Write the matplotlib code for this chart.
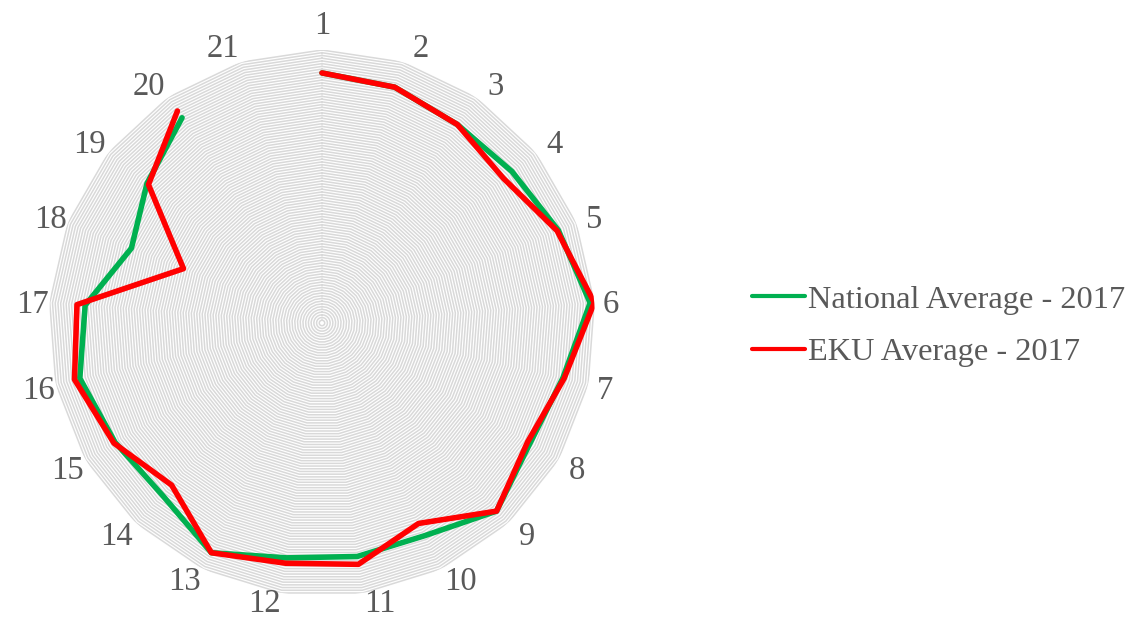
import numpy as np
import matplotlib
matplotlib.use("Agg")
import matplotlib.pyplot as plt

categories = [str(i) for i in range(1, 22)]
national = [91.6, 90.4, 88.0, 89.0, 93.0, 98.5, 90.5, 88.0, 94.0, 86.5, 86.5,
            87.0, 93.4, 86.0, 87.5, 91.0, 87.0, 75.0, 82.0, 91.0, np.nan]
eku = [91.6, 90.4, 88.0, 85.0, 92.5, 100.0, 91.0, 87.0, 94.0, 81.5, 89.4,
       89.0, 93.4, 81.0, 88.0, 93.0, 90.0, 54.5, 81.3, 94.0, np.nan]
series_names = ["National Average - 2017", "EKU Average - 2017"]
r_max = 100
grid_levels = np.arange(1, 101, 1)

W, H = 1137, 622
fig = plt.figure(figsize=(W / 100, H / 100), dpi=100)
cx, cy, R = 322, 323, 273
ax = fig.add_axes([(cx - R) / W, (H - cy - R) / H, 2 * R / W, 2 * R / H],
                  projection="polar")
ax.set_theta_offset(np.pi / 2)
ax.set_theta_direction(-1)
ax.set_ylim(0, r_max)
ax.grid(False)
ax.spines["polar"].set_visible(False)
ax.set_yticks([])
ax.set_xticks([])
ax.set_facecolor("none")

n = len(categories)
angles = np.arange(n) * 2 * np.pi / n
closed = np.append(angles, angles[0])
for lv in grid_levels:
    ax.plot(closed, np.full(closed.shape, lv), color="#d9d9d9", lw=1.1, zorder=1)

serif = ["Liberation Serif", "DejaVu Serif"]
label_r = r_max * 290 / 273
for a, lab in zip(angles, categories):
    rr = r_max * 300 / 273 if lab == "1" else label_r
    c = np.cos(a)
    dx_px = np.sign(np.round(np.sin(a), 6)) * 15 * c ** 2
    down_px = 3 - 10 * max(0.0, -c) ** 6
    ax.annotate(lab, xy=(a, rr), xytext=(dx_px * 0.72, -down_px * 0.72),
                textcoords="offset points", ha="center", va="center",
                fontsize=23.5, family=serif, color="#595959",
                annotation_clip=False)

l1, = ax.plot(angles, national, color="#00B050", lw=4, solid_capstyle="round",
              solid_joinstyle="round", zorder=3, label=series_names[0])
l2, = ax.plot(angles, eku, color="#FF0000", lw=4, solid_capstyle="round",
              solid_joinstyle="round", zorder=4, label=series_names[1])

leg = fig.legend(handles=[l1, l2], loc="center left",
                 bbox_to_anchor=(752 / W, 1 - 326 / H), frameon=False,
                 prop={"family": serif, "size": 23.3}, labelcolor="#595959",
                 handlelength=1.64, handletextpad=0.1, labelspacing=0.7,
                 borderpad=0, borderaxespad=0)
for ln in leg.get_lines():
    ln.set_linewidth(3)

fig.savefig("out.png", dpi=100)
